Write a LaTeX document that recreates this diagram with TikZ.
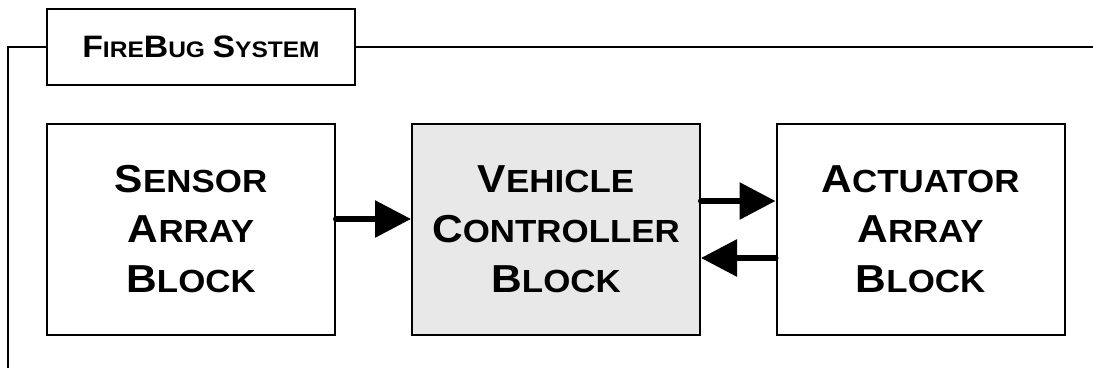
\documentclass[tikz,border=0pt]{standalone}
\usepackage{fontspec}
\usepackage{graphicx}
\setmainfont{Liberation Sans}
\usetikzlibrary{arrows.meta}
% first letter full size, the rest as smaller capitals, slightly widened
\newcommand\capword[2]{\scalebox{1.09}[1]{{\fontsize{39}{50}\selectfont #1}{\fontsize{32}{50}\selectfont #2}}}
\newcommand\titleword[2]{{\fontsize{31}{36}\selectfont #1}{\fontsize{22.5}{36}\selectfont #2}}
\tikzset{
  blockbox/.style={draw=black, line width=2pt, minimum width=288pt, minimum height=211pt, inner sep=0pt},
  blocktext/.style={font=\bfseries\fontsize{39}{50}\selectfont, align=center},
  flow/.style={line width=6pt, line cap=round, -{Triangle[length=36pt,width=36pt]}},
  frame/.style={line width=1.5pt}
}
\begin{document}
\begin{tikzpicture}[x=1pt,y=-1pt]
\useasboundingbox (0,0) rectangle (1093,370);
% outer system frame
\coordinate (fl) at (8,47);
\coordinate (fb) at (8,368);
\coordinate (fr) at (1093,47);
\node[draw=black, line width=1.5pt, minimum width=308pt, minimum height=76pt, inner sep=0pt]
  (title) at (201,47) {};
\node[font=\bfseries\fontsize{25}{30}\selectfont] at (201,47)
  {\scalebox{1.09}[1]{\titleword{F}{IRE}\titleword{B}{UG} \titleword{S}{YSTEM}}};
\draw[frame] (title.west) -- (fl) -- (fb);
\draw[frame] (title.east) -- (fr);
% blocks
\node[blockbox] (sensor) at (191,229.5) {};
\node[blockbox, fill=black!9] (ctrl) at (556,229.5) {};
\node[blockbox] (act) at (920.5,229.5) {};
\node[blocktext] at (sensor) {\capword{S}{ENSOR}\\\capword{A}{RRAY}\\\capword{B}{LOCK}};
\node[blocktext] at (ctrl) {\capword{V}{EHICLE}\\\capword{C}{ONTROLLER}\\\capword{B}{LOCK}};
\node[blocktext] at (act) {\capword{A}{CTUATOR}\\\capword{A}{RRAY}\\\capword{B}{LOCK}};
% signal flow
\draw[flow] (sensor.east |- 0,219) -- (ctrl.west |- 0,219);
\draw[flow] (ctrl.east |- 0,201) -- (act.west |- 0,201);
\draw[flow] (act.west |- 0,258) -- (ctrl.east |- 0,258);
\end{tikzpicture}
\end{document}
